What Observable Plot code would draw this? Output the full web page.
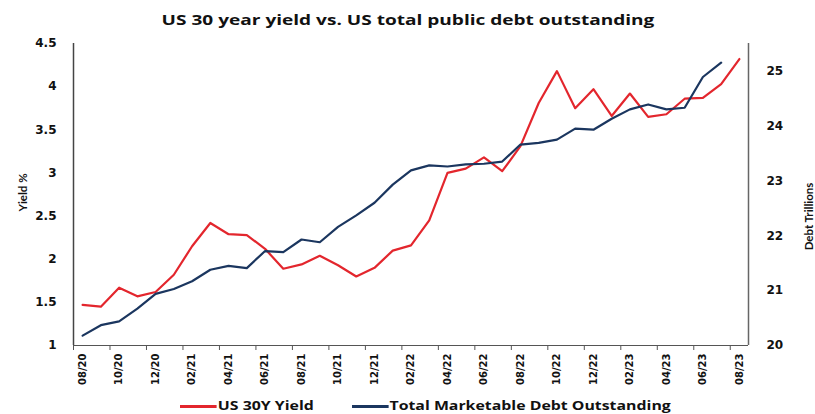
<!DOCTYPE html>
<html>
<head>
<meta charset="utf-8">
<script src="https://cdn.jsdelivr.net/npm/d3@7"></script>
<script src="https://cdn.jsdelivr.net/npm/@observablehq/plot@0.6"></script>
<style>
  html, body { margin: 0; padding: 0; background: #fff; }
  #wrap { position: relative; width: 815px; height: 414px; overflow: hidden; }
  #title { position: absolute; left: 0; top: 0; width: 815px; text-align: center;
    font: bold 15px "Open Sans", sans-serif; line-height: 38px; color: #111; }
  #title span { display: inline-block; transform: scaleX(1.27); transform-origin: center; }
  #chart { position: absolute; left: 0; top: 30px; }
  #legend { position: absolute; left: 180px; top: 395px; white-space: nowrap;
    font: bold 13px "Open Sans", sans-serif; color: #111; line-height: 20px;
    transform: scaleX(1.22); transform-origin: left center; }
  #legend .sw { display: inline-block; width: 30px; height: 2.5px; vertical-align: middle; margin-right: 1px; }
  #legend .item { display: inline-block; }
</style>
</head>
<body>
<div id="wrap">
  <div id="title"><span>US 30 year yield vs. US total public debt outstanding</span></div>
  <div id="chart"></div>
  <div id="legend"></div>
</div>
<script>
// Monthly data 08/20 .. 08/23
const tickLabels = ["08/20","10/20","12/20","02/21","04/21","06/21","08/21","10/21","12/21","02/22","04/22","06/22","08/22","10/22","12/22","02/23","04/23","06/23","08/23"];
const yieldValues = [1.47,1.45,1.67,1.57,1.62,1.82,2.15,2.42,2.29,2.28,2.12,1.89,1.94,2.04,1.93,1.80,1.90,2.10,2.16,2.45,3.00,3.05,3.18,3.02,3.31,3.81,4.18,3.75,3.97,3.66,3.92,3.65,3.68,3.86,3.87,4.03,4.32];
const debtValues = [20.18,20.37,20.44,20.67,20.94,21.03,21.17,21.38,21.45,21.41,21.72,21.70,21.93,21.88,22.16,22.37,22.60,22.93,23.19,23.28,23.26,23.30,23.31,23.35,23.66,23.69,23.75,23.95,23.93,24.13,24.30,24.39,24.30,24.33,24.89,25.15,null];
const yieldTicks = [1,1.5,2,2.5,3,3.5,4,4.5];
const debtTicks = [20,21,22,23,24,25];
const seriesNames = ["US 30Y Yield", "Total Marketable Debt Outstanding"];
const colors = ["#e3262d", "#1b365f"];

const yDomain = [1, 4.5];
const debtDomain = [20, 25.5];
const toY = d => yDomain[0] + (d - debtDomain[0]) * (yDomain[1] - yDomain[0]) / (debtDomain[1] - debtDomain[0]);
const fromY = v => debtDomain[0] + (v - yDomain[0]) * (debtDomain[1] - debtDomain[0]) / (yDomain[1] - yDomain[0]);

const idx = d3.range(yieldValues.length);
const labelIdx = tickLabels.map((_, k) => k * 2);
const tickPos = labelIdx.map(i => i - 0.5);

const chart = Plot.plot({
  width: 815,
  height: 366,
  marginTop: 13,
  marginBottom: 51,
  marginLeft: 73,
  marginRight: 67,
  style: { fontFamily: "'DejaVu Sans', sans-serif", fontWeight: "bold", fontSize: "12px", color: "#111", background: "white" },
  x: { domain: [-0.5, yieldValues.length - 0.5], axis: null },
  y: { domain: yDomain, axis: null },
  marks: [
    Plot.axisY(yieldTicks, { anchor: "left", tickSize: 0, tickPadding: 17, label: null, tickFormat: d => String(d) }),
    Plot.axisY(debtTicks.map(toY), { anchor: "right", tickSize: 0, tickPadding: 18, label: null, tickFormat: v => String(Math.round(fromY(v))) }),
    Plot.axisX(tickPos, { anchor: "bottom", tickSize: 5, tickFormat: () => "", label: null, stroke: "#555" }),
    Plot.axisX(labelIdx, { anchor: "bottom", tickSize: 0, tickPadding: 8, tickRotate: -90, label: null, fontSize: 10, tickFormat: i => tickLabels[i / 2] }),
    Plot.ruleX([-0.5], { stroke: "#444", strokeWidth: 1.5 }),
    Plot.ruleX([yieldValues.length - 0.5], { stroke: "#666", strokeWidth: 1.5 }),
    Plot.ruleY([yDomain[0]], { stroke: "#555", strokeWidth: 1.2 }),
    Plot.line(idx, { x: i => i, y: i => yieldValues[i], stroke: colors[0], strokeWidth: 2.2 }),
    Plot.line(idx, { x: i => i, y: i => debtValues[i] == null ? NaN : toY(debtValues[i]), stroke: colors[1], strokeWidth: 2.2 }),
    Plot.text(["Yield %"], { frameAnchor: "left", textAnchor: "middle", text: d => d, rotate: -90, dx: -50, dy: -2, fontFamily: "Lato", fontWeight: "bold", fontSize: 11.5, fill: "#111" }),
    Plot.text(["Debt Trillions"], { frameAnchor: "right", textAnchor: "middle", text: d => d, rotate: -90, dx: 61, dy: 22, fontFamily: "Lato", fontWeight: "bold", fontSize: 11.5, fill: "#111" })
  ]
});
document.getElementById("chart").appendChild(chart);

const legend = document.getElementById("legend");
seriesNames.forEach((name, k) => {
  const item = document.createElement("span");
  item.className = "item";
  if (k > 0) item.style.marginLeft = "31px";
  const sw = document.createElement("span");
  sw.className = "sw";
  sw.style.background = colors[k];
  item.appendChild(sw);
  item.appendChild(document.createTextNode(name));
  legend.appendChild(item);
});
</script>
</body>
</html>
